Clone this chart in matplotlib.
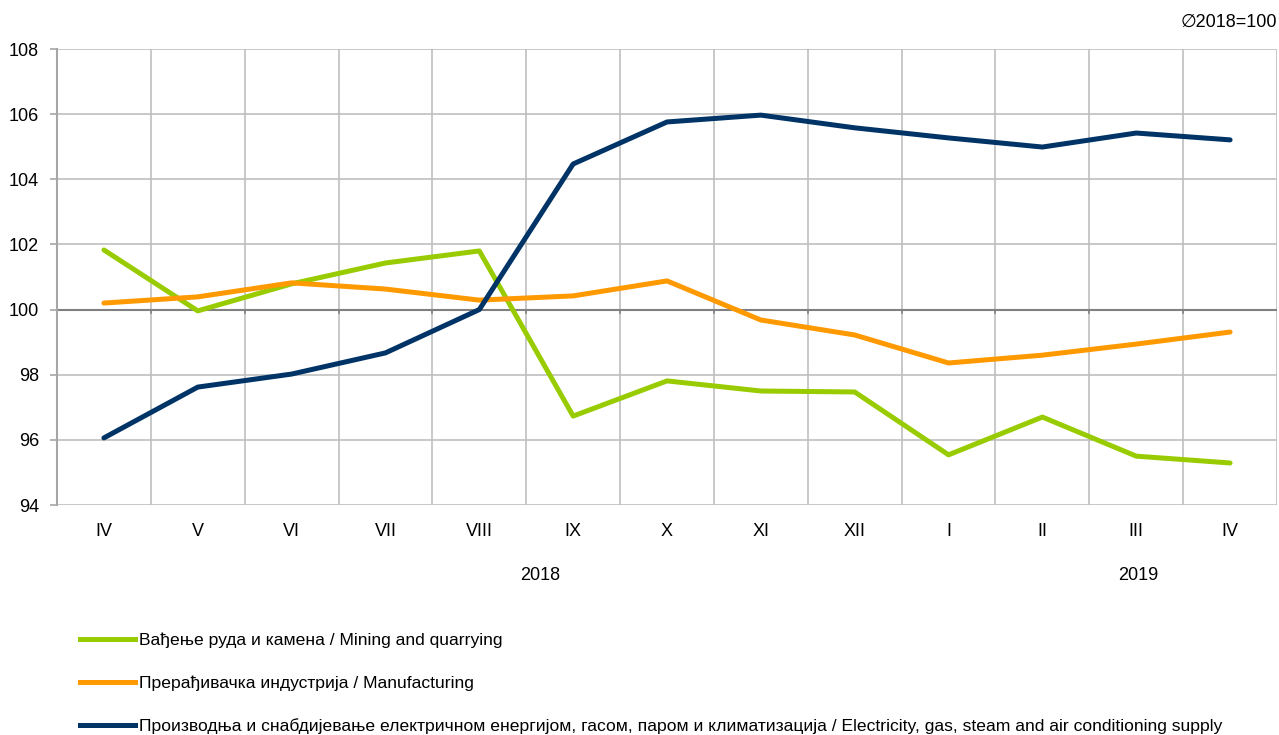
import matplotlib
matplotlib.use("Agg")
import matplotlib.pyplot as plt
from matplotlib.lines import Line2D
import numpy as np

months = ["IV", "V", "VI", "VII", "VIII", "IX", "X", "XI", "XII", "I", "II", "III", "IV"]
mining = [101.83, 99.96, 100.79, 101.43, 101.80, 96.73, 97.81, 97.50, 97.47, 95.54, 96.70, 95.50, 95.29]
manufacturing = [100.20, 100.39, 100.82, 100.63, 100.29, 100.42, 100.88, 99.68, 99.22, 98.36, 98.60, 98.94, 99.31]
electricity = [96.06, 97.62, 98.02, 98.67, 100.00, 104.47, 105.76, 105.97, 105.58, 105.27, 104.99, 105.42, 105.21]
labels = ["Вађење руда и камена / Mining and quarrying",
          "Прерађивачка индустрија / Manufacturing",
          "Производња и снабдијевање електричном енергијом, гасом, паром и климатизација / Electricity, gas, steam and air conditioning supply"]
colors = ["#99CC00", "#FF9900", "#003366"]
years = ["2018", "2019"]
year_pos = [4.65, 11.02]
yticks = [94, 96, 98, 100, 102, 104, 106, 108]

plt.rcParams['font.family'] = ['Liberation Sans', 'DejaVu Sans']

fig = plt.figure(figsize=(12.79, 7.35), dpi=100)
ax = fig.add_axes([57/1279, 1-505/735, 1220/1279, 456/735])

x = np.arange(len(months))
for vals, c in zip([mining, manufacturing, electricity], colors):
    ax.plot(x, vals, color=c, lw=3.6, solid_capstyle='round', solid_joinstyle='round', zorder=3)

ax.set_xlim(-0.5, len(months) - 0.5)
ax.set_ylim(94, 108)

grid_c = "#BFBFBF"
for b in np.arange(-0.5, len(months)):
    ax.axvline(b, color=grid_c, lw=1.2, zorder=1)
for yv in yticks:
    if yv != 100:
        ax.axhline(yv, color=grid_c, lw=1.2, zorder=1)
ax.axhline(100, color="#808080", lw=1.5, zorder=2)
for b in np.arange(0.5, len(months) - 0.5):
    ax.plot([b, b], [100, 100 - 0.12], color="#808080", lw=1.2, zorder=2)

for s in ax.spines.values():
    s.set_visible(False)
ax.spines['left'].set_visible(True)
ax.spines['left'].set_color("#A6A6A6")
ax.spines['left'].set_linewidth(1.5)

ax.set_yticks(yticks)
ax.set_yticklabels([str(v) for v in yticks], fontsize=13)
ax.tick_params(axis='y', length=5, color="#A6A6A6", width=1.2, pad=8)
ax.set_xticks(x)
ax.set_xticklabels(months, fontsize=13)
ax.tick_params(axis='x', length=0, pad=13)

y_year = 94 - (575 - 505) / (456 / 14)
for yr, xp in zip(years, year_pos):
    ax.text(xp, y_year, yr, ha='center', va='center', fontsize=13)

fig.text(1277/1279, 1 - 22/735, "∅2018=100", ha='right', va='center', fontsize=13)

handles = [Line2D([0], [0], color=c, lw=3.6) for c in colors]
leg = fig.legend(handles, labels, loc='upper left', bbox_to_anchor=(80/1279, 1 - 633/735),
                 frameon=False, fontsize=12.6, handlelength=3.15, handletextpad=0.2,
                 labelspacing=1.55, borderaxespad=0, borderpad=0)

fig.savefig("out.png", dpi=100)
